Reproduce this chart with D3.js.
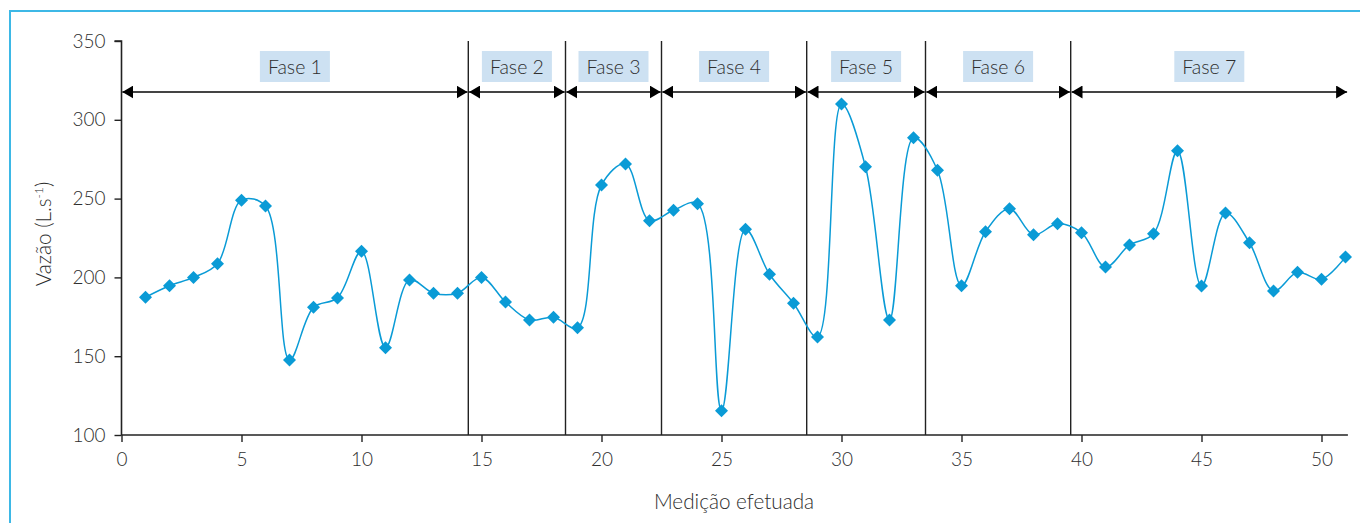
<!DOCTYPE html>
<html>
<head>
<meta charset="utf-8">
<script src="https://cdn.jsdelivr.net/npm/d3@7"></script>
<style>
  html, body { margin: 0; padding: 0; background: #fff; }
  svg { display: block; font-family: Lato, "Open Sans", sans-serif; }
</style>
</head>
<body>
<svg id="chart" width="1360" height="523"></svg>
<script>
// Medições (1..51) e vazão medida em L/s
const medicoes = d3.range(1, 52);
const vazao = [187.4, 194.7, 200, 208.7, 249, 245.3, 147.6, 181, 187, 216.6,
               155.4, 198.4, 190, 190, 200, 184.4, 173, 174.7, 168, 258.6,
               272, 236, 242.6, 246.8, 115.4, 230.5, 202, 183.6, 162.2, 310,
               270.2, 173, 288.6, 268, 194.7, 229, 243.6, 227, 234, 228.4,
               206.6, 220.6, 227.7, 280.4, 194.5, 240.9, 222, 191.4, 203.2, 198.8,
               213];

// Fases de operação e limites entre elas (em unidades de medição)
const fases = ["Fase 1", "Fase 2", "Fase 3", "Fase 4", "Fase 5", "Fase 6", "Fase 7"];
const limites = [0, 14.45, 18.5, 22.5, 28.55, 33.5, 39.55, 51.1];

const xTicks = [0, 5, 10, 15, 20, 25, 30, 35, 40, 45, 50];
const yTicks = [100, 150, 200, 250, 300, 350];

const svg = d3.select("#chart");
const azul = "#0a9bd6";
const fonte = "Lato, 'Open Sans', sans-serif";
const corTexto = "#2e2e2e";

const x = d3.scaleLinear().domain([0, 51.1]).range([121.5, 1347.9]);
const y = d3.scaleLinear().domain([100, 350]).range([435, 41]);

// Moldura (topo e esquerda)
svg.append("path")
  .attr("d", "M10,540 L10,11 L1370,11")
  .attr("fill", "none")
  .attr("stroke", "#3db8e6")
  .attr("stroke-width", 2);

// Ponta de seta das fases
const defs = svg.append("defs");
defs.append("marker")
  .attr("id", "seta")
  .attr("viewBox", "0 0 11 13")
  .attr("refX", 11).attr("refY", 6.5)
  .attr("markerWidth", 11).attr("markerHeight", 13)
  .attr("markerUnits", "userSpaceOnUse")
  .attr("orient", "auto-start-reverse")
  .append("path")
  .attr("d", "M0,0 L11,6.5 L0,13 Z")
  .attr("fill", "#000");

// Eixos
const yAxis = svg.append("g")
  .attr("transform", `translate(${x(0)},0)`)
  .call(d3.axisLeft(y).tickValues(yTicks).tickSize(7).tickPadding(9));
const xAxis = svg.append("g")
  .attr("transform", `translate(0,${y(100)})`)
  .call(d3.axisBottom(x).tickValues(xTicks).tickSize(7).tickPadding(8));
[yAxis, xAxis].forEach(g => {
  g.attr("font-family", fonte).attr("font-size", 19);
  g.select(".domain").attr("stroke", "#222").attr("stroke-width", 1.6);
  g.selectAll(".tick line").attr("stroke", "#222").attr("stroke-width", 1.4);
  g.selectAll(".tick text").attr("fill", corTexto).attr("font-weight", 300);
});
yAxis.select(".domain").attr("d", `M-7,${y(350)}H0V${y(100)}`);
xAxis.select(".domain").attr("d", `M${x(0)},0H${x(51.1)}`);
xAxis.selectAll(".tick text").attr("dy", "0.85em");

// Linhas verticais de separação das fases
svg.append("g").selectAll("line")
  .data(limites.slice(1, -1))
  .join("line")
  .attr("x1", d => x(d)).attr("x2", d => x(d))
  .attr("y1", y(350)).attr("y2", y(100))
  .attr("stroke", "#222").attr("stroke-width", 1.4);

// Setas e rótulos das fases
const faseG = svg.append("g").selectAll("g")
  .data(fases)
  .join("g");
faseG.append("line")
  .attr("x1", (d, i) => x(limites[i]) + 0.8)
  .attr("x2", (d, i) => x(limites[i + 1]) - 0.8)
  .attr("y1", 92).attr("y2", 92)
  .attr("stroke", "#444").attr("stroke-width", 2)
  .attr("marker-start", "url(#seta)")
  .attr("marker-end", "url(#seta)");
faseG.append("rect")
  .attr("x", (d, i) => (x(limites[i]) + x(limites[i + 1])) / 2 - 35)
  .attr("y", 51).attr("width", 70).attr("height", 31)
  .attr("fill", "#cde1f2");
faseG.append("text")
  .attr("x", (d, i) => (x(limites[i]) + x(limites[i + 1])) / 2)
  .attr("y", 74)
  .attr("text-anchor", "middle")
  .attr("font-size", 19.5).attr("font-weight", 300)
  .attr("fill", corTexto)
  .text(d => d);

// Série suavizada
const pontos = medicoes.map((m, i) => ({ m, v: vazao[i] }));
svg.append("path")
  .datum(pontos)
  .attr("fill", "none")
  .attr("stroke", azul)
  .attr("stroke-width", 1.5)
  .attr("d", d3.line().x(d => x(d.m)).y(d => y(d.v)).curve(d3.curveCatmullRom.alpha(0.5)));

// Marcadores em losango
svg.append("g").selectAll("path")
  .data(pontos)
  .join("path")
  .attr("transform", d => `translate(${x(d.m)},${y(d.v)})`)
  .attr("d", "M0,-6.5 L6.5,0 L0,6.5 L-6.5,0 Z")
  .attr("fill", azul);

// Títulos dos eixos
svg.append("text")
  .attr("x", 734).attr("y", 509)
  .attr("text-anchor", "middle")
  .attr("font-size", 20.7).attr("font-weight", 300).attr("fill", corTexto)
  .text("Medição efetuada");

const yt = svg.append("text")
  .attr("transform", "translate(51,234) rotate(-90)")
  .attr("text-anchor", "middle")
  .attr("font-size", 20.7).attr("font-weight", 300).attr("fill", corTexto);
yt.append("tspan").text("Vazão (L.s");
yt.append("tspan").attr("font-size", 12).attr("dy", -8).text("-1");
yt.append("tspan").attr("dy", 8).text(")");
</script>
</body>
</html>
